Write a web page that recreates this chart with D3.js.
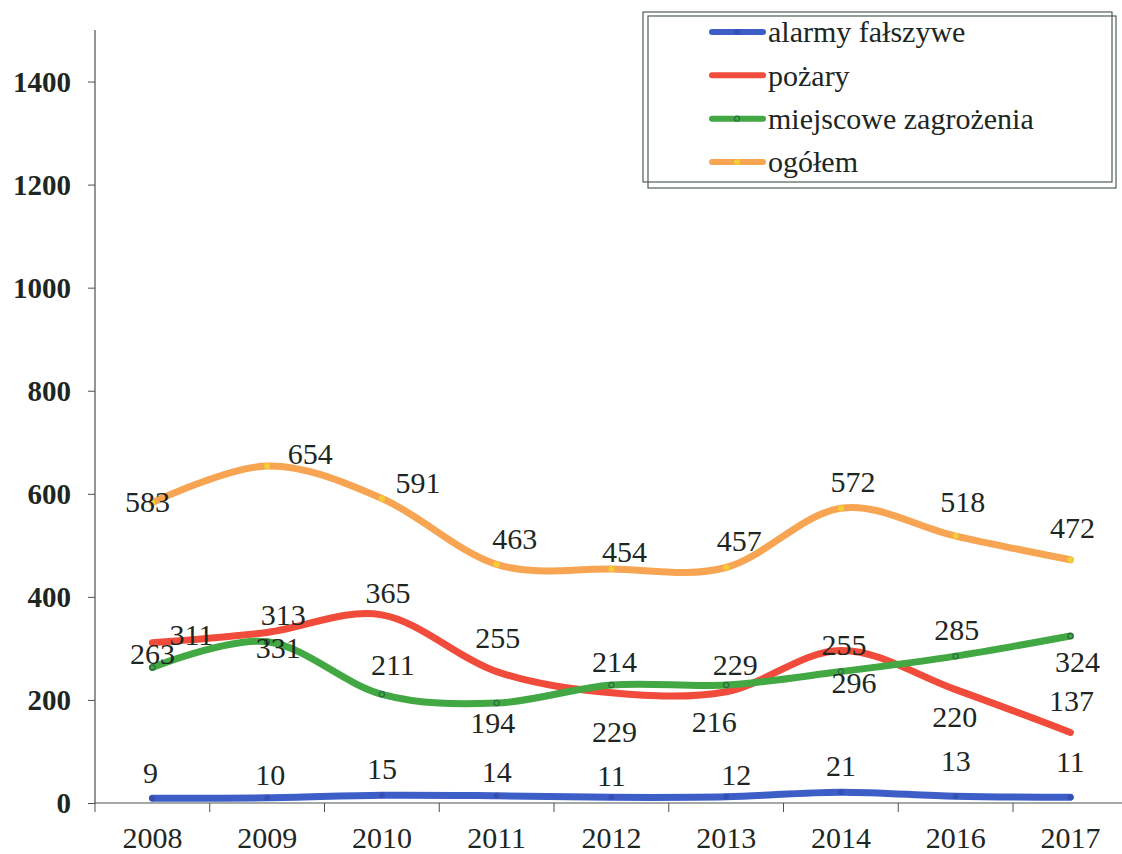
<!DOCTYPE html>
<html>
<head>
<meta charset="utf-8">
<script src="https://cdn.jsdelivr.net/npm/d3@7"></script>
<style>
  body { margin: 0; background: #fff; }
  svg { display: block; }
  svg text { font-family: "Liberation Serif", "DejaVu Serif", "Noto Serif", "Times New Roman", Times, serif !important; fill: #1e2622; }
</style>
</head>
<body>
<svg></svg>
<script>
// categories and values
const years = ['2008', '2009', '2010', '2011', '2012', '2013', '2014', '2016', '2017'];
const alarmy = [9, 10, 15, 14, 11, 12, 21, 13, 11];
const pozary = [311, 331, 365, 255, 214, 216, 296, 220, 137];
const miejscowe = [263, 313, 211, 194, 229, 229, 255, 285, 324];
const ogolem = [583, 654, 591, 463, 454, 457, 572, 518, 472];
const yTicks = [0, 200, 400, 600, 800, 1000, 1200, 1400];
const seriesNames = ['alarmy fałszywe', 'pożary', 'miejscowe zagrożenia', 'ogółem'];

window.onload = () => {

  const width = 1122;
  const height = 854;

  // label nudges (dx, dy) relative to each point
  const shifts = [
    [[-2, -26], [3, -23], [0, -26], [0, -24], [0, -22], [10, -22], [0, -26], [0, -36], [0, -36]],
    [[39, -8], [11, 15], [6, -22], [1, -34], [3, -31], [-12, 30], [13, 32], [-1, 27], [1, -32]],
    [[0, -14], [16, -27], [11, -29], [-4, 20], [3, 47], [9, -20], [3, -27], [1, -26], [7, 26]],
    [[-5, -1], [43, -12], [36, -16], [18, -26], [13, -17], [13, -27], [12, -26], [7, -34], [2, -32]]
  ];

  const series = [
    {name: seriesNames[0], values: alarmy, color: '#3d5ec6', marker: '#3550b2', hollow: false},
    {name: seriesNames[1], values: pozary, color: '#f04b3b', marker: null, hollow: false},
    {name: seriesNames[2], values: miejscowe, color: '#41a844', marker: '#2d6b3c', hollow: true},
    {name: seriesNames[3], values: ogolem, color: '#f8a553', marker: '#f3cf33', hollow: false}
  ];

  const svg = d3.select('svg').attr('width', width).attr('height', height);
  svg.append('rect').attr('width', width).attr('height', height).attr('fill', '#fff');

  const x0 = 95;
  const yBottom = 803;
  const yTop = 30;
  const step = 114.75;

  const xScale = d3.scaleBand().domain(years).range([x0, x0 + step * years.length]).padding(0);
  const yScale = d3.scaleLinear().domain([0, 1500]).range([yBottom, yTop]);
  const cx = d => xScale(d) + xScale.bandwidth() / 2;

  const axisColor = '#4b534e';

  // y axis
  const yAxis = svg.append('g')
      .attr('transform', 'translate(' + x0 + ',0)')
      .call(d3.axisLeft(yScale).tickValues(yTicks).tickFormat(d3.format('d'))
        .tickSizeInner(7).tickSizeOuter(0).tickPadding(17));
  yAxis.select('.domain').remove();
  yAxis.selectAll('line').attr('stroke', axisColor);
  yAxis.selectAll('text')
      .attr('font-size', 29)
      .attr('font-weight', 'bold')
      .attr('dy', '0.34em');

  svg.append('line')
      .attr('x1', x0).attr('x2', x0)
      .attr('y1', yScale(1500)).attr('y2', yBottom)
      .attr('stroke', axisColor).attr('stroke-width', 1.2);

  // x axis
  svg.append('line')
      .attr('x1', x0).attr('x2', width)
      .attr('y1', yBottom).attr('y2', yBottom)
      .attr('stroke', axisColor).attr('stroke-width', 1.2);

  svg.append('g').selectAll('line')
      .data(years)
      .join('line')
      .attr('x1', d => xScale(d)).attr('x2', d => xScale(d))
      .attr('y1', yBottom).attr('y2', yBottom + 9)
      .attr('stroke', axisColor);

  const xAxis = svg.append('g')
      .attr('transform', 'translate(0,' + yBottom + ')')
      .call(d3.axisBottom(xScale).tickSize(0).tickPadding(24));
  xAxis.select('.domain').remove();
  xAxis.selectAll('text')
      .attr('font-size', 30);

  // lines
  const line = d3.line()
      .x((d, i) => cx(years[i]))
      .y(d => yScale(d))
      .curve(d3.curveCardinal.tension(0));

  series.forEach(s => {
    svg.append('path')
        .datum(s.values)
        .attr('fill', 'none')
        .attr('stroke', s.color)
        .attr('stroke-width', 7)
        .attr('stroke-linecap', 'round')
        .attr('stroke-linejoin', 'round')
        .attr('d', line);

    if (s.marker) {
      svg.append('g').selectAll('circle')
          .data(s.values)
          .join('circle')
          .attr('cx', (d, i) => cx(years[i]))
          .attr('cy', d => yScale(d))
          .attr('r', s.hollow ? 2.6 : 3)
          .attr('fill', s.hollow ? 'none' : s.marker)
          .attr('stroke', s.hollow ? s.marker : 'none')
          .attr('stroke-width', 1.2);
    }
  });

  // data labels
  series.forEach((s, k) => {
    svg.append('g').selectAll('text')
        .data(s.values)
        .join('text')
        .attr('x', (d, i) => cx(years[i]) + shifts[k][i][0])
        .attr('y', (d, i) => yScale(d) + shifts[k][i][1])
        .attr('dy', '0.34em')
        .attr('text-anchor', 'middle')
        .attr('font-size', 30)
        .text(d => d);
  });

  // legend
  const legend = svg.append('g');
  legend.append('rect')
      .attr('x', 643).attr('y', 12).attr('width', 469).attr('height', 170)
      .attr('fill', 'none').attr('stroke', '#4f5f55').attr('stroke-width', 1.2);
  legend.append('rect')
      .attr('x', 648).attr('y', 16).attr('width', 468).attr('height', 172)
      .attr('fill', 'none').attr('stroke', '#4f5f55').attr('stroke-width', 1.2);

  const legendY = d3.scalePoint().domain(seriesNames).range([32, 162]);

  const items = legend.selectAll('.item')
      .data(series)
      .join('g')
      .attr('class', 'item')
      .attr('transform', d => 'translate(0,' + legendY(d.name) + ')');

  items.append('line')
      .attr('x1', 712).attr('x2', 763)
      .attr('stroke', d => d.color)
      .attr('stroke-width', 6)
      .attr('stroke-linecap', 'round');

  items.filter(d => d.marker)
      .append('circle')
      .attr('cx', 737)
      .attr('r', d => d.hollow ? 2.6 : 3)
      .attr('fill', d => d.hollow ? 'none' : d.marker)
      .attr('stroke', d => d.hollow ? d.marker : 'none')
      .attr('stroke-width', 1.2);

  items.append('text')
      .attr('x', 768)
      .attr('dy', '0.34em')
      .attr('font-size', 30)
      .text(d => d.name);

};
</script>
</body>
</html>
